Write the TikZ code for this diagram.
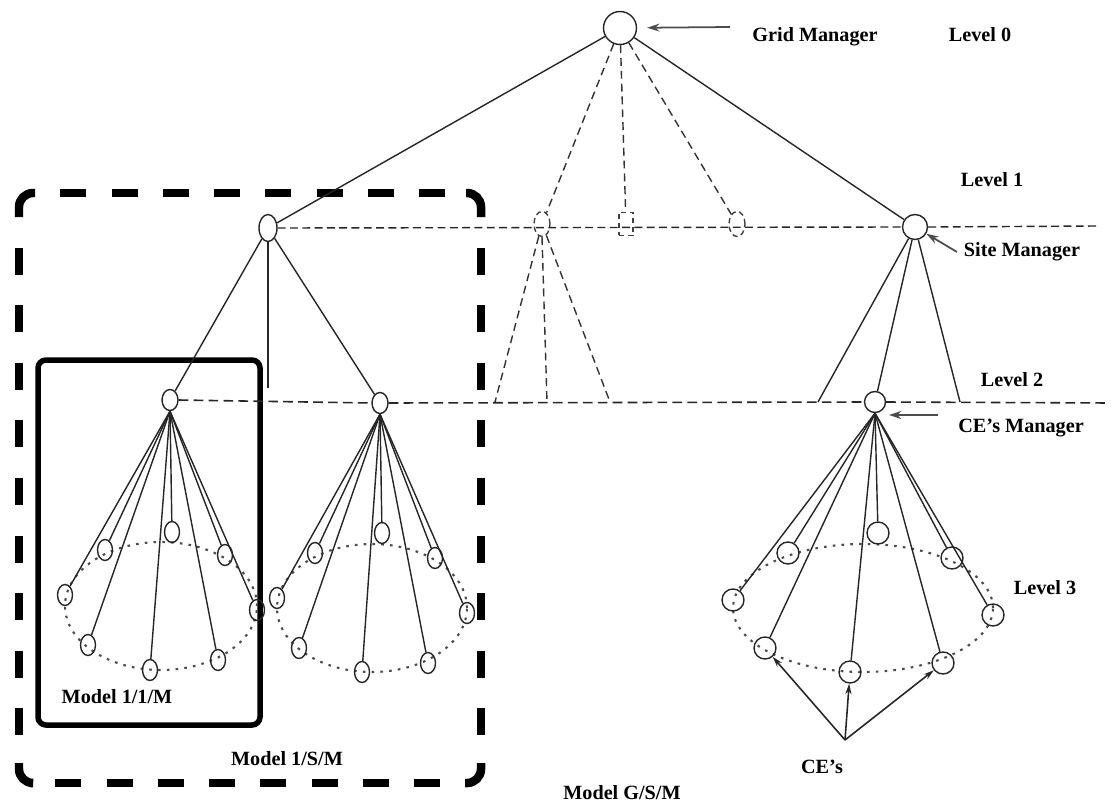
\documentclass[tikz,border=0pt]{standalone}
\usepackage{fontspec}
\setmainfont{Liberation Serif}
\usetikzlibrary{shapes.geometric,arrows.meta}
\begin{document}
\begin{tikzpicture}[x=0.02cm,y=-0.02cm,
  link/.style={draw=black!85,line width=0.8pt},
  ghostline/.style={draw=black!80,line width=0.8pt,dash pattern=on 4.5pt off 2.8pt},
  levelone/.style={draw=black!85,line width=0.8pt,dash pattern=on 4.5pt off 2.5pt},
  leveltwo/.style={draw=black!85,line width=0.9pt,dash pattern=on 5.5pt off 3pt},
  ring/.style={draw=black!70,line width=1.2pt,dash pattern=on 1.5pt off 3.5pt},
  oval/.style={ellipse,draw=black!85,line width=0.8pt,inner sep=0pt},
  roundnode/.style={circle,draw=black!85,line width=0.8pt,inner sep=0pt},
  cesmall/.style={oval,minimum width=0.3cm,minimum height=0.42cm},
  cebig/.style={roundnode,minimum size=0.44cm},
  ghostoval/.style={ellipse,draw=black!75,line width=0.8pt,dash pattern=on 3pt off 2pt,inner sep=0pt,minimum width=0.32cm,minimum height=0.5cm},
  ghostbox/.style={rectangle,draw=black!75,line width=0.8pt,dash pattern=on 3pt off 2pt,inner sep=0pt,minimum width=0.28cm,minimum height=0.46cm},
  tag/.style={font=\bfseries\fontsize{11.5}{13}\selectfont,inner sep=0pt},
  pointer/.style={draw=black!70,line width=1pt,-{Stealth[length=7pt,width=4.5pt]}},
  ceptr/.style={draw=black!85,line width=0.9pt,-{Stealth[length=6pt,width=3.5pt]}},
  bigdash/.style={draw=black,line width=0.17cm},
]
\useasboundingbox (0,0) rectangle (1118,804);

% ---- model boxes ----
% outer dashed box (Model 1/S/M): corners solid, sides dashed
\draw[bigdash,rounded corners=0.28cm] (19,217) -- (19,193) -- (35,193);
\draw[bigdash,rounded corners=0.28cm] (466,193) -- (481,193) -- (481,217);
\draw[bigdash,rounded corners=0.28cm] (19,763) -- (19,783) -- (30,783);
\draw[bigdash,rounded corners=0.28cm] (481,763) -- (481,783) -- (465,783);
\draw[bigdash,dash pattern=on 0.52cm off 0.506cm,dash phase=0.52cm] (35,193) -- (466,193);
\draw[bigdash,dash pattern=on 0.52cm off 0.506cm,dash phase=0.52cm] (30,783) -- (465,783);
\draw[bigdash,dash pattern=on 0.54cm off 0.612cm,dash phase=0.54cm] (19,217) -- (19,763);
\draw[bigdash,dash pattern=on 0.54cm off 0.612cm,dash phase=0.54cm] (481,217) -- (481,763);
% inner solid box (Model 1/1/M)
\draw[draw=black,line width=0.11cm,rounded corners=0.16cm] (38,360) rectangle (260,725);

% ---- level 0 ----
\node[roundnode,minimum size=0.66cm] (gm) at (620,28) {};

% ---- level 1 ----
\node[oval,minimum width=0.36cm,minimum height=0.54cm] (sa) at (268,228) {};
\node[roundnode,minimum size=0.5cm] (sb) at (915,227) {};
\node[ghostoval] (ga) at (542,224) {};
\node[ghostbox] (gb) at (626,224) {};
\node[ghostoval] (gc) at (737,224) {};

% ---- level 2 ----
\node[oval,minimum width=0.32cm,minimum height=0.42cm] (ca) at (170,400) {};
\node[oval,minimum width=0.32cm,minimum height=0.42cm] (cb) at (380,403) {};
\node[roundnode,minimum size=0.42cm] (cc) at (875,402) {};

% level lines
\coordinate (lonend) at (1097,226);
\coordinate (ltwoend) at (1110,403);
\draw[levelone] (sa.east) -- (sb.west);
\draw[levelone] (sb.east) -- (lonend);
\draw[leveltwo] (ca.east) -- (cb.west);
\draw[leveltwo] (cb.east) -- (cc.west);
\draw[leveltwo] (cc.east) -- (ltwoend);

% grid manager to sites
\draw[link] (gm) -- (sa);
\draw[link] (gm) -- (sb);
\draw[ghostline] (gm) -- (ga);
\draw[ghostline] (gm) -- (gb);
\draw[ghostline] (gm) -- (gc);

% left site to its CE managers
\coordinate (samid) at (268,388);
\draw[link] (sa) -- (ca);
\draw[link] (sa.south) -- (samid);
\draw[link] (sa) -- (cb);

% ghost site branches
\coordinate (gaa) at (495,402);
\coordinate (gab) at (547,402);
\coordinate (gac) at (610,402);
\draw[ghostline] (ga) -- (gaa);
\draw[ghostline] (ga.south) -- (gab);
\draw[ghostline] (ga) -- (gac);

% right site branches
\coordinate (sba) at (818,402);
\coordinate (sbc) at (960,402);
\draw[link] (sb) -- (sba);
\draw[link] (sb) -- (cc);
\draw[link] (sb) -- (sbc);

% ---- level 3 : computing elements ----
\draw[ring] (161,606) ellipse [x radius=1.92cm,y radius=1.28cm];
\draw[ring] (372,608) ellipse [x radius=1.9cm,y radius=1.28cm];
\draw[ring] (863,608) ellipse [x radius=2.6cm,y radius=1.28cm];

\foreach \n/\x/\y in {1/65/595,2/105/550,3/172/532,4/225/555,5/257/610,6/88/645,7/150/670,8/218/660}{
  \node[cesmall] (la\n) at (\x,\y) {};
  \draw[link] (ca.south) -- (la\n);
}
\foreach \n/\x/\y in {1/277/598,2/315/553,3/382/533,4/435/558,5/467/613,6/299/648,7/362/672,8/428/663}{
  \node[cesmall] (lb\n) at (\x,\y) {};
  \draw[link] (cb.south) -- (lb\n);
}
\foreach \n/\x/\y in {1/733/600,2/788/553,3/878/533,4/952/558,5/993/615,6/765/648,7/850/672,8/943/663}{
  \node[cebig] (rc\n) at (\x,\y) {};
  \draw[link] (cc.south) -- (rc\n);
}

% CE's pointers
\coordinate (apex) at (845,740);
\draw[ceptr] (apex) -- (rc6);
\draw[ceptr] (apex) -- (rc7);
\draw[ceptr] (apex) -- (rc8);

% ---- labels ----
\node[tag] (tgm) at (815,37) {Grid Manager};
\node[tag] (tl0) at (980,35) {Level 0};
\node[tag] (tl1) at (992,180) {Level 1};
\node[tag] (tsm) at (1022,252) {Site Manager};
\node[tag] (tl2) at (1012,380) {Level 2};
\node[tag] (tcm) at (1021,428) {CE's Manager};
\node[tag] (tl3) at (1045,588) {Level 3};
\node[tag] (tm1) at (117,697) {Model 1/1/M};
\node[tag] (tm2) at (287,759) {Model 1/S/M};
\node[tag] (tm3) at (622,793) {Model G/S/M};
\node[tag] (tce) at (822,767) {CE's};

% pointers to managers
\coordinate (gmtail) at (730,27);
\draw[pointer,shorten >=0.2cm] (gmtail) -- (gm);
\coordinate (smtail) at (957,252);
\draw[pointer] (smtail) -- (sb);
\coordinate (cmtail) at (938,415);
\draw[pointer,shorten >=0.12cm] (cmtail) -- (cmtail -| cc.south east);
\end{tikzpicture}
\end{document}
